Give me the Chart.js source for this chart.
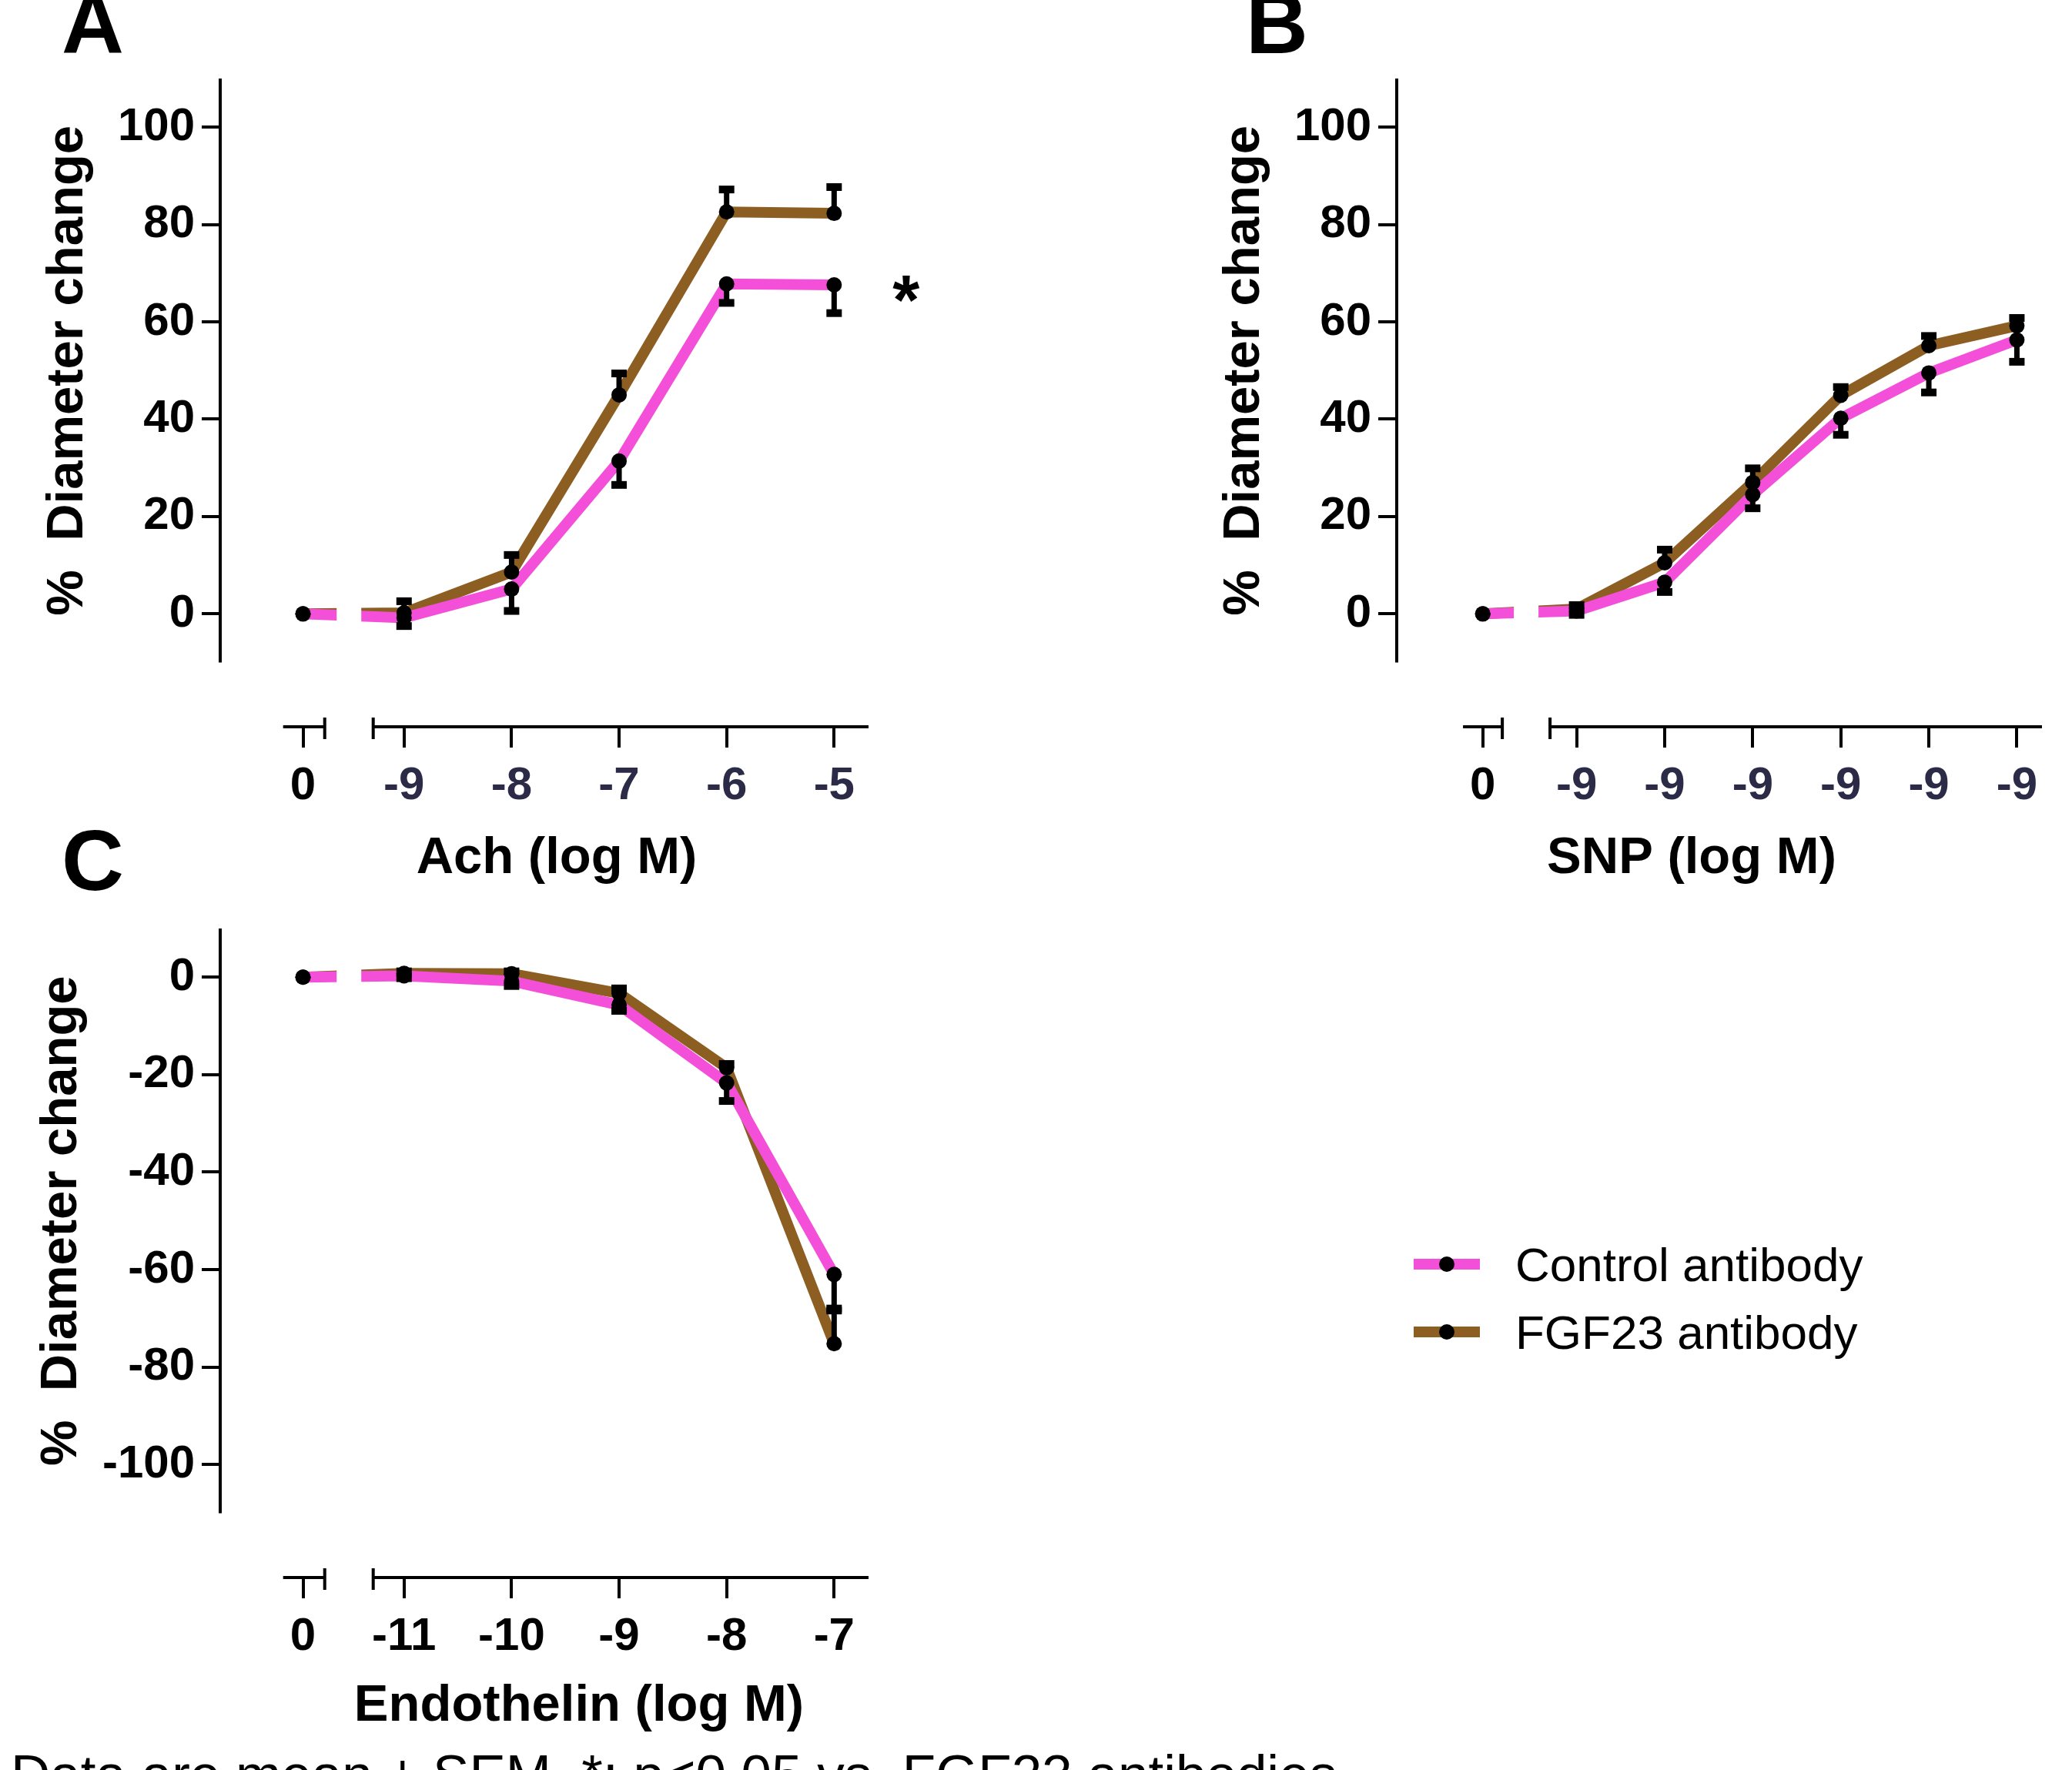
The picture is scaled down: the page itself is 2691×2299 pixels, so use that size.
<!DOCTYPE html>
<html>
<head>
<meta charset="utf-8">
<script src="https://cdn.jsdelivr.net/npm/chart.js@4.4.1/dist/chart.umd.min.js"></script>
<style>
  html, body { margin: 0; padding: 0; background: #fff; }
  #wrap { position: relative; width: 2691px; height: 2299px; overflow: hidden; background: #fff; }
  canvas { position: absolute; left: 0; top: 0; }
</style>
</head>
<body>
<div id="wrap">
  <canvas id="panel-a" width="2691" height="2299"></canvas>
  <canvas id="panel-b" width="2691" height="2299"></canvas>
  <canvas id="panel-c" width="2691" height="2299"></canvas>
</div>
<script>
// ---------------- data ----------------
// x positions: first entry is the "0" (no drug) point drawn left of the axis break
const achLabels = ['0', '-9', '-8', '-7', '-6', '-5'];
const achX = [-9.94, -9, -8, -7, -6, -5];
const achControl = [0, -0.8, 5.1, 31.4, 67.8, 67.6];
const achControlSem = [0, 1.7, 4.5, 4.9, 3.9, 5.8];
const achFgf23 = [0, 0.2, 8.6, 45.0, 82.6, 82.3];
const achFgf23Sem = [0, 2.4, 3.5, 4.4, 4.6, 5.4];

const snpLabels = ['0', '-9', '-9', '-9', '-9', '-9', '-9'];
const snpX = [-0.066, 1, 2, 3, 4, 5, 6];
const snpControl = [0, 0.6, 6.5, 24.5, 40.2, 49.5, 56.3];
const snpControlSem = [0, 0.8, 2.0, 2.8, 3.4, 4.0, 4.5];
const snpFgf23 = [0, 1.0, 10.5, 27.0, 44.9, 55.1, 59.2];
const snpFgf23Sem = [0, 0.8, 2.7, 2.9, 1.7, 2.0, 1.6];

const etLabels = ['0', '-11', '-10', '-9', '-8', '-7'];
const etX = [-11.94, -11, -10, -9, -8, -7];
const etControl = [0, 0.3, -0.8, -5.7, -21.7, -61.0];
const etControlSem = [0, 0.5, 1.0, 1.2, 3.7, 7.0];
const etFgf23 = [0, 0.8, 0.7, -3.3, -18.6, -75.2];
const etFgf23Sem = [0, 0.4, 0.5, 1.0, 0.8, 6.8];

const yTicksUp = [0, 20, 40, 60, 80, 100];
const yTicksDown = [0, -20, -40, -60, -80, -100];

const seriesNames = ['Control antibody', 'FGF23 antibody'];

// ---------------- styles ----------------
const FONT = '"Liberation Sans", Arial, Helvetica, sans-serif';
const PINK = '#f44fd8';
const BROWN = '#8d5e21';
const NAVY = '#2b2b48';

Chart.defaults.font.family = FONT;

// draws axis lines with the break, titles, error bars and misc text
const decor = p => ({
  id: 'decor',
  afterDatasetsDraw(chart) {
    const { ctx, chartArea } = chart;
    const x = chart.scales.x;
    const y = chart.scales.y;
    ctx.save();
    // break in the curves between "0" and the first dose
    const bx = (x.getPixelForValue(p.axisBreak[0]) + x.getPixelForValue(p.axisBreak[1])) / 2;
    ctx.fillStyle = '#fff';
    ctx.fillRect(bx - 16, chartArea.top, 32, y.getPixelForValue(p.yAxisEnd) - chartArea.top);

    // error bars (one sided)
    ctx.fillStyle = '#000';
    chart.data.datasets.forEach((ds, di) => {
      if (!ds.sem) return;
      const meta = chart.getDatasetMeta(di);
      meta.data.forEach((pt, j) => {
        const s = ds.sem[j];
        if (!s) return;
        const yEnd = y.getPixelForValue(ds.data[j].y + ds.semDir * s);
        ctx.fillRect(pt.x - 3.5, Math.min(pt.y, yEnd), 7, Math.abs(yEnd - pt.y));
        ctx.fillRect(pt.x - 10, yEnd - 5, 20, 10);
      });
    });
    ctx.restore();
  },
  afterDraw(chart) {
    const { ctx, chartArea } = chart;
    const x = chart.scales.x;
    const y = chart.scales.y;
    ctx.save();
    ctx.strokeStyle = '#000';
    ctx.lineWidth = 4;

    // y axis (stops above the x axis)
    const yBottom = y.getPixelForValue(p.yAxisEnd);
    ctx.beginPath();
    ctx.moveTo(chartArea.left, chartArea.top);
    ctx.lineTo(chartArea.left, yBottom);
    ctx.stroke();

    // x axis, broken
    const xb = chartArea.bottom;
    const a0 = x.getPixelForValue(p.axisStart);
    const a1 = x.getPixelForValue(p.axisBreak[0]);
    const a2 = x.getPixelForValue(p.axisBreak[1]);
    ctx.beginPath();
    ctx.moveTo(a0, xb); ctx.lineTo(a1, xb);
    ctx.moveTo(a2, xb); ctx.lineTo(chartArea.right, xb);
    ctx.moveTo(a1, xb - 12); ctx.lineTo(a1, xb + 16);
    ctx.moveTo(a2, xb - 12); ctx.lineTo(a2, xb + 16);
    ctx.stroke();

    // axis titles
    ctx.fillStyle = '#000';
    ctx.font = 'bold 67px ' + FONT;
    ctx.textAlign = 'center';
    ctx.textBaseline = 'middle';
    ctx.save();
    ctx.translate(chartArea.left - p.yTitleOffset, y.getPixelForValue((p.yMax + p.yAxisEnd) / 2));
    ctx.rotate(-Math.PI / 2);
    ctx.fillText('%  Diameter change', 0, 0);
    ctx.restore();
    ctx.textBaseline = 'alphabetic';
    ctx.fillText(p.xTitle, p.xTitleX, xb + p.xTitleDrop);

    // panel letter
    ctx.font = 'bold 112px ' + FONT;
    ctx.textAlign = 'left';
    ctx.fillText(p.letter, p.letterPos[0], p.letterPos[1]);

    if (p.extra) p.extra(ctx, chart);
    ctx.restore();
  },
});

const makePanel = (id, p) => {
  const points = vals => p.x.map((v, i) => ({ x: v, y: vals[i] }));
  const line = (label, vals, sem, dir, color) => ({
    label, data: points(vals), sem, semDir: dir,
    borderColor: color, backgroundColor: color, borderWidth: 14,
    pointRadius: 0, tension: 0, order: 2,
  });
  const dots = vals => ({
    data: points(vals), showLine: false, pointRadius: 10,
    pointBackgroundColor: '#000', pointBorderWidth: 0, order: 1,
  });

  return new Chart(document.getElementById(id), {
    type: 'line',
    data: {
      datasets: [
        line(seriesNames[0], p.control, p.controlSem, -1, PINK),
        line(seriesNames[1], p.fgf23, p.fgf23Sem, 1, BROWN),
        dots(p.control),
        dots(p.fgf23),
      ],
    },
    options: {
      responsive: false,
      animation: false,
      devicePixelRatio: 1,
      layout: { padding: p.padding },
      plugins: { legend: { display: false }, tooltip: { enabled: false } },
      scales: {
        x: {
          type: 'linear',
          min: p.xMin,
          max: p.xMax,
          afterFit: s => { s.height = p.xHeight; },
          afterBuildTicks: s => { s.ticks = p.x.map(v => ({ value: v })); },
          border: { display: false },
          grid: { drawOnChartArea: false, tickLength: 27, lineWidth: 4, color: '#000' },
          ticks: {
            autoSkip: false, maxRotation: 0, padding: 14,
            font: { size: 60, weight: 'bold' },
            color: c => p.tickColors[c.index] || '#000',
            callback: (v, i) => p.labels[i],
          },
        },
        y: {
          min: p.yMin,
          max: p.yMax,
          afterFit: s => { s.width = 286; },
          afterBuildTicks: s => { s.ticks = p.yTicks.map(v => ({ value: v })); },
          border: { display: false },
          grid: { drawOnChartArea: false, tickLength: 24, lineWidth: 4, color: '#000' },
          ticks: { padding: 9, font: { size: 60, weight: 'bold' }, color: '#000' },
        },
      },
    },
    plugins: [decor(p)],
  });
};

// ---------------- panels ----------------
makePanel('panel-a', {
  x: achX, labels: achLabels,
  control: achControl, controlSem: achControlSem,
  fgf23: achFgf23, fgf23Sem: achFgf23Sem,
  yTicks: yTicksUp, yMin: -23.2, yMax: 110, yAxisEnd: -10,
  xMin: -10.71, xMax: -4.68, axisStart: -10.125, axisBreak: [-9.738, -9.287],
  padding: { left: 0, top: 102, right: 1563, bottom: 0 }, xHeight: 1355,
  tickColors: ['#000', NAVY, NAVY, NAVY, NAVY, NAVY],
  yTitleOffset: 197, xTitle: 'Ach (log M)', xTitleX: 723, xTitleDrop: 190,
  letter: 'A', letterPos: [80, 69],
  extra: (ctx, chart) => {
    ctx.font = 'bold 90px ' + FONT;
    ctx.textAlign = 'center';
    ctx.fillText('*', chart.scales.x.getPixelForValue(-4.33), chart.scales.y.getPixelForValue(59.5));
  },
});

makePanel('panel-b', {
  x: snpX, labels: snpLabels,
  control: snpControl, controlSem: snpControlSem,
  fgf23: snpFgf23, fgf23Sem: snpFgf23Sem,
  yTicks: yTicksUp, yMin: -23.2, yMax: 110, yAxisEnd: -10,
  xMin: -1.043, xMax: 6.285, axisStart: -0.29, axisBreak: [0.156, 0.698],
  padding: { left: 1528, top: 102, right: 39, bottom: 0 }, xHeight: 1355,
  tickColors: ['#000', NAVY, NAVY, NAVY, NAVY, NAVY, NAVY],
  yTitleOffset: 197, xTitle: 'SNP (log M)', xTitleX: 2197, xTitleDrop: 190,
  letter: 'B', letterPos: [1618, 69],
});

makePanel('panel-c', {
  x: etX, labels: etLabels,
  control: etControl, controlSem: etControlSem,
  fgf23: etFgf23, fgf23Sem: etFgf23Sem,
  yTicks: yTicksDown, yMin: -123.2, yMax: 10, yAxisEnd: -110,
  xMin: -12.71, xMax: -6.68, axisStart: -12.125, axisBreak: [-11.738, -11.287],
  padding: { left: 0, top: 1206, right: 1563, bottom: 0 }, xHeight: 250,
  tickColors: [],
  yTitleOffset: 205, xTitle: 'Endothelin (log M)', xTitleX: 752, xTitleDrop: 186,
  letter: 'C', letterPos: [80, 1156],
  extra: (ctx, chart) => {
    // legend
    const rows = [[PINK, 1642], [BROWN, 1730]];
    rows.forEach(([color, yy], i) => {
      ctx.strokeStyle = color;
      ctx.lineWidth = 14;
      ctx.beginPath();
      ctx.moveTo(1836, yy);
      ctx.lineTo(1922, yy);
      ctx.stroke();
      ctx.fillStyle = '#000';
      ctx.beginPath();
      ctx.arc(1879, yy, 10, 0, Math.PI * 2);
      ctx.fill();
      ctx.font = '62px ' + FONT;
      ctx.textAlign = 'left';
      ctx.fillText(chart.data.datasets[i].label, 1968, yy + 22);
    });
    // footnote, cut by the bottom edge
    ctx.font = '71px ' + FONT;
    ctx.fillText('Data are mean \u00b1 SEM. *: p<0.05 vs. FGF23 antibodies', 14, 2329);
  },
});
</script>
</body>
</html>
